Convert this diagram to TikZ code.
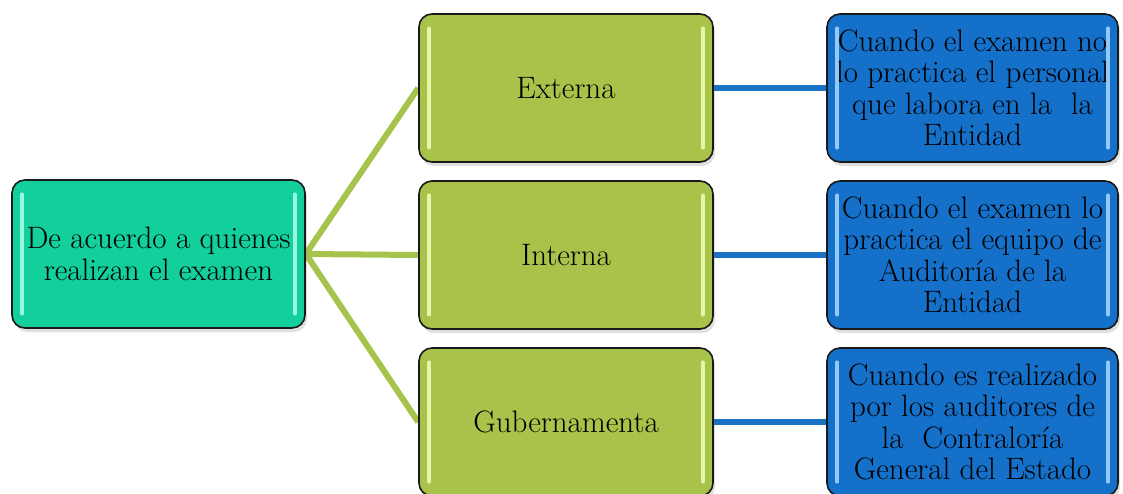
\documentclass[tikz,border=0pt]{standalone}
\usepackage{fontspec}
\usetikzlibrary{shadows,backgrounds,calc}

\definecolor{rootfill}{RGB}{18,207,155}
\definecolor{catfill}{RGB}{168,194,74}
\definecolor{descfill}{RGB}{20,112,200}
\definecolor{branchline}{RGB}{166,196,75}
\definecolor{linkline}{RGB}{26,114,197}
\definecolor{rootglint}{RGB}{175,255,238}
\definecolor{catglint}{RGB}{242,255,185}
\definecolor{descglint}{RGB}{165,218,255}

\tikzset{
  box/.style={draw=black!90, line width=1.6pt, rounded corners=13pt,
    minimum height=148pt, inner sep=0pt, align=center,
    font=\fontsize{31}{31.5}\selectfont,
    drop shadow={opacity=0.25, shadow xshift=2pt, shadow yshift=-4pt}},
  rootbox/.style={box, fill=rootfill, minimum width=293pt},
  catbox/.style={box, fill=catfill, minimum width=294pt},
  descbox/.style={box, fill=descfill, minimum width=291pt},
  branch/.style={draw=branchline, line width=6pt},
  link/.style={draw=linkline, line width=6pt},
  glint/.style={line width=3.5pt, line cap=round, opacity=0.85},
}

% light vertical strips along the inner left and right edges of a box
\newcommand\boxglints[2]{%
  \draw[glint,#2] ($(#1.north west)+(11,15)$) -- ($(#1.south west)+(11,-15)$);
  \draw[glint,#2] ($(#1.north east)+(-11,15)$) -- ($(#1.south east)+(-11,-15)$);
}

\begin{document}
\begin{tikzpicture}[x=1pt,y=-1pt]
  \useasboundingbox (0,0) rectangle (1123,493);

  % root
  \node[rootbox] (root) at (158.5,254) {De acuerdo a quienes\\realizan el examen};

  % categories
  \node[catbox] (ext) at (566,88)  {Externa};
  \node[catbox] (int) at (566,255) {Interna};
  \node[catbox] (gub) at (566,422) {Gubernamenta};

  % descriptions
  \node[descbox] (dext) at (972.5,88)
    {Cuando el examen no\\lo practica el personal\\que labora en la\ \ la\\Entidad};
  \node[descbox] (dint) at (972.5,255)
    {Cuando el examen lo\\practica el equipo de\\Auditoría de la\\Entidad};
  \node[descbox] (dgub) at (972.5,422)
    {Cuando es realizado\\por los auditores de\\la\ \ Contraloría\\General del Estado};

  \boxglints{root}{rootglint}
  \boxglints{ext}{catglint}
  \boxglints{int}{catglint}
  \boxglints{gub}{catglint}
  \boxglints{dext}{descglint}
  \boxglints{dint}{descglint}
  \boxglints{dgub}{descglint}

  % connectors, kept behind the boxes
  \begin{scope}[on background layer]
    \draw[branch] (root.east) -- (ext.west);
    \draw[branch] (root.east) -- (int.west);
    \draw[branch] (root.east) -- (gub.west);
    \draw[link] (ext.east) -- (dext.west);
    \draw[link] (int.east) -- (dint.west);
    \draw[link] (gub.east) -- (dgub.west);
  \end{scope}
\end{tikzpicture}
\end{document}
